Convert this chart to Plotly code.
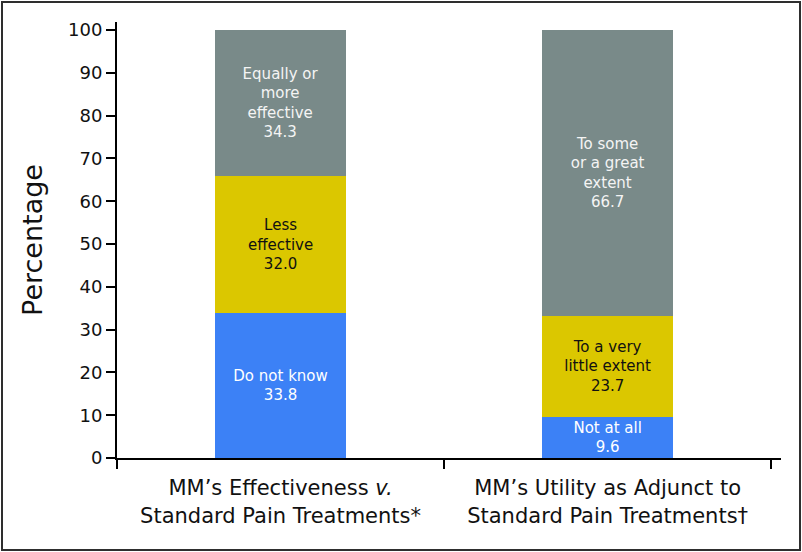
import plotly.graph_objects as go

# survey answers, percent of respondents
categories = [
    "MM\u2019s Effectiveness <i>v.</i><br>Standard Pain Treatments*",
    "MM\u2019s Utility as Adjunct to<br>Standard Pain Treatments\u2020",
]
bottom_vals = [33.8, 9.6]
bottom_labels = ["Do not know", "Not at all"]
middle_vals = [32.0, 23.7]
middle_labels = ["Less<br>effective", "To a very<br>little extent"]
top_vals = [34.3, 66.7]
top_labels = ["Equally or<br>more<br>effective", "To some<br>or a great<br>extent"]
y_ticks = list(range(0, 101, 10))

FONT = "DejaVu Sans"
W, H = 802, 552
L, R, T, B = 117, 21, 22, 94

xs = list(range(len(categories)))


def seg(vals, labels, color, txtcolor):
    return go.Bar(
        x=xs, y=vals, text=labels, width=0.4,
        marker=dict(color=color, line=dict(width=0)),
        texttemplate="%{text}<br>%{y:.1f}",
        textposition="inside", insidetextanchor="middle",
        textangle=0, constraintext="none",
        textfont=dict(family=FONT, size=15, color=txtcolor),
        hoverinfo="skip", showlegend=False,
    )


fig = go.Figure([
    seg(bottom_vals, bottom_labels, "#3c81f6", "white"),
    seg(middle_vals, middle_labels, "#dbc700", "#111111"),
    seg(top_vals, top_labels, "#798a89", "#f4f4f4"),
])

fig.update_layout(
    barmode="stack",
    width=W, height=H,
    margin=dict(l=L, r=R, t=T, b=B, autoexpand=False),
    plot_bgcolor="white", paper_bgcolor="white",
    font=dict(family=FONT, color="#111111"),
)

fig.update_xaxes(
    range=[-0.5, 1.53], automargin=False,
    tickvals=xs, ticktext=categories,
    ticks="outside", ticklen=0, ticklabelstandoff=10,
    tickfont=dict(family=FONT, size=21),
    showline=True, linecolor="black", linewidth=2,
    showgrid=False, zeroline=False,
    minor=dict(tickvals=[-0.5, 0.5, 1.5], ticks="outside", ticklen=9,
               tickwidth=2, tickcolor="black", showgrid=False),
)

fig.update_yaxes(
    range=[0, 101.9], automargin=False,
    tickvals=y_ticks,
    ticks="outside", ticklen=9, tickwidth=2, tickcolor="black",
    tickfont=dict(family=FONT, size=18),
    showline=True, linecolor="black", linewidth=2,
    showgrid=False, zeroline=False,
    title=dict(text="Percentage", font=dict(family=FONT, size=27), standoff=18),
)

# dark frame round the whole picture
pw, ph = W - L - R, H - T - B
fig.add_shape(
    type="rect", xref="paper", yref="paper",
    x0=(2 - L) / pw, x1=1 + (R - 2) / pw,
    y0=-(B - 2) / ph, y1=1 + (T - 2) / ph,
    line=dict(color="#2e2e2e", width=2),
)

# page body has a default 8px margin, drop it so the figure fills the window
fig.write_html("out.html", config={"displayModeBar": False},
               post_script="document.body.style.margin='0';")
